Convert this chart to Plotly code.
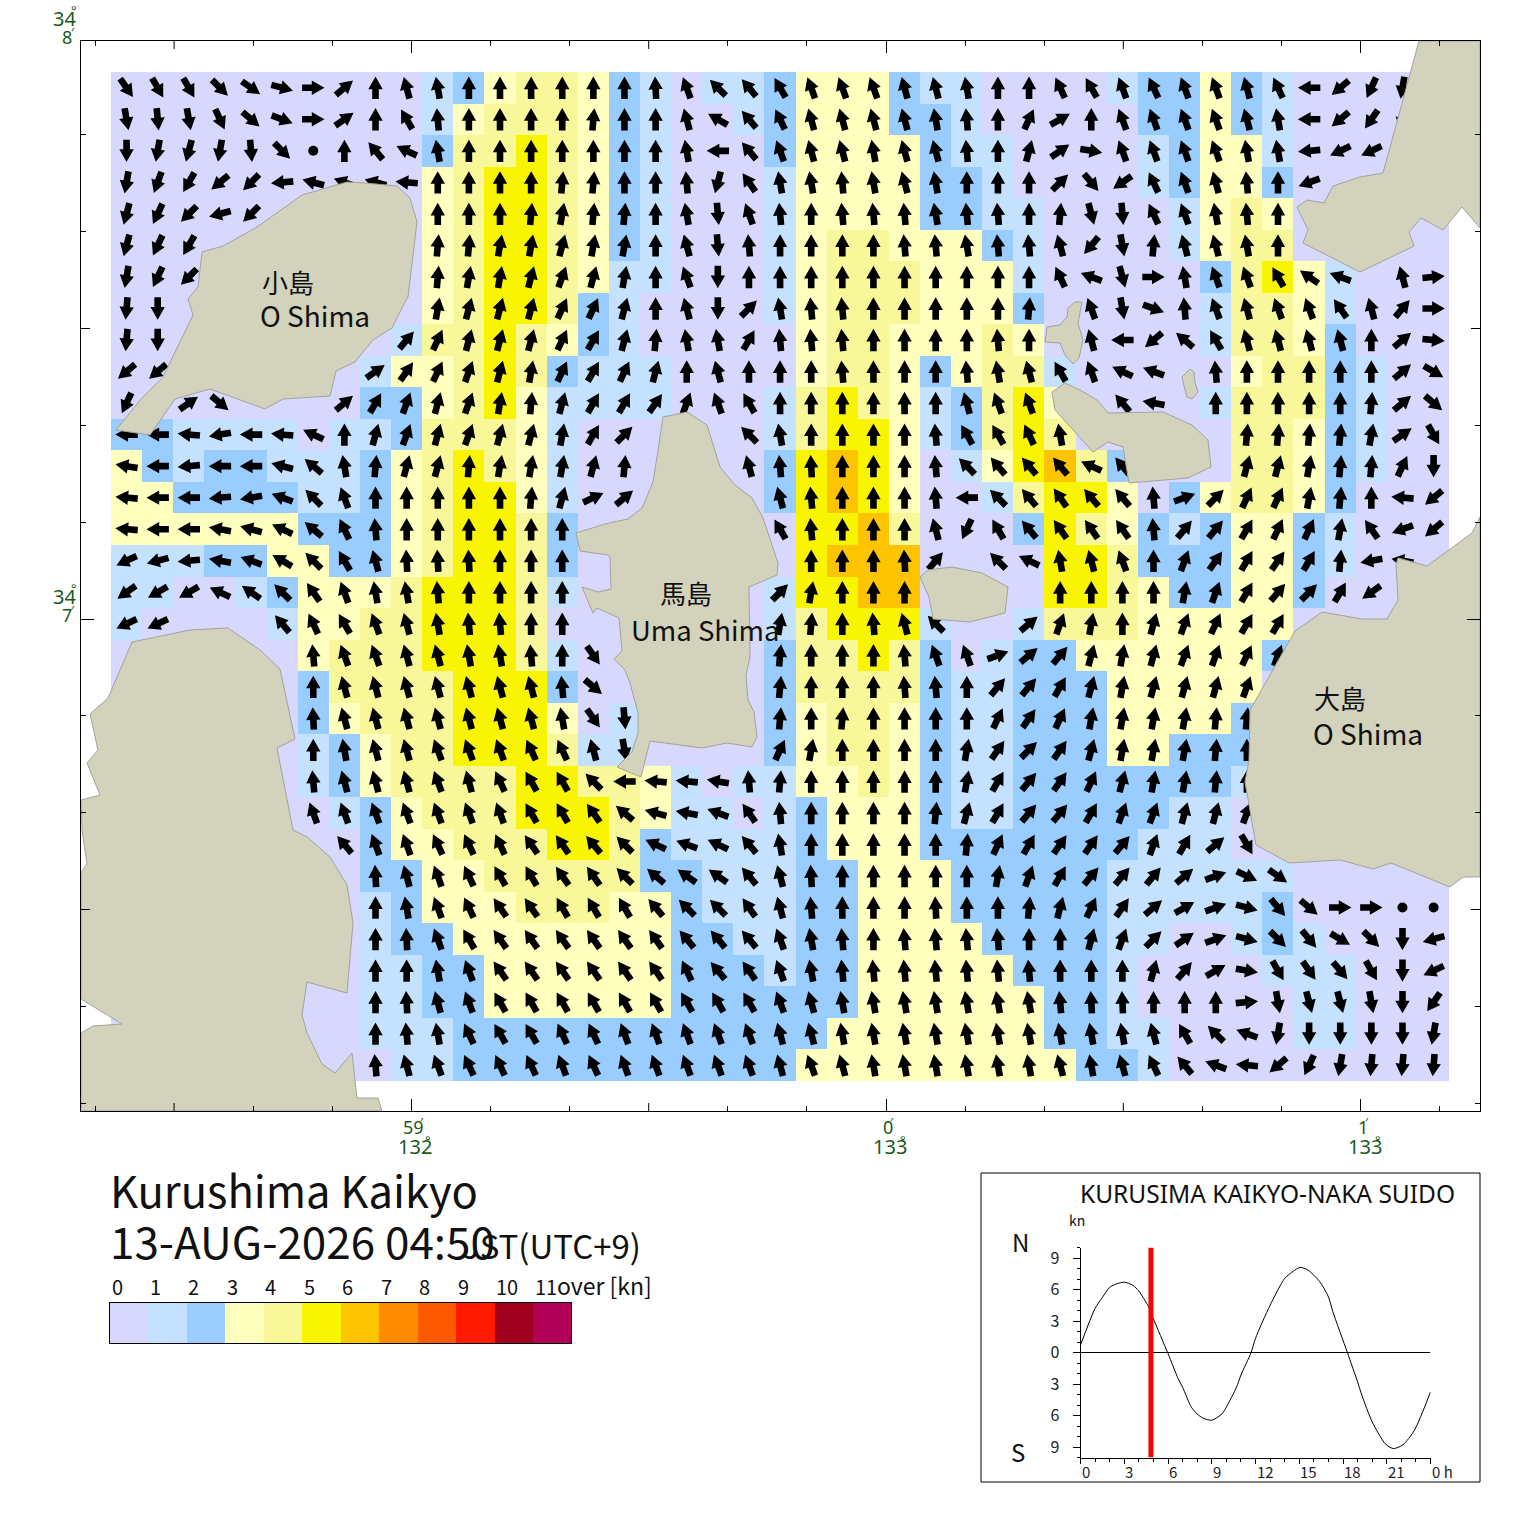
import math
import plotly.graph_objects as go

W, H = 1520, 1533
FONT = "Noto Sans CJK JP"
LATIN = "Noto Sans"
_ = None

# speed class of each grid cell (0 = 0-1 kn, 1 = 1-2 kn ...), north row first
speed_rows = [
    "0000000000 12344 32101 12333 21100 00122 32100 000",
    "0000000000 13444 32100 12333 22100 00022 32100 000",
    "0000000000 24454 32100 02333 32110 00012 33100 000",
    "0000000000 34554 32100 01333 32210 00012 33200 000",
    "0000000000 34554 32100 01333 32211 00001 34300 000",
    "0000000000 34554 32100 01344 33321 00001 34400 000",
    "0000000000 34554 31100 01344 43331 00000 24531 000",
    "0000000000 34554 21000 01344 43332 00000 14431 000",
    "0000000001 44543 21000 00344 33343 00000 14432 000",
    "0000000013 34542 11100 00344 32344 10000 03442 100",
    "0000000022 34531 11100 01454 31245 30000 14442 100",
    "2211110112 44431 00000 01455 31245 40000 04432 100",
    "3212211123 45431 00000 02565 30135 64200 04432 100",
    "3322221123 45531 00000 02565 30014 55302 34432 000",
    "3333332223 45542 00000 00556 40002 54321 23321 000",
    "1112233223 45542 00000 00566 60000 55422 23321 000",
    "1100123334 55541 00000 01556 60000 55432 23320 000",
    "1000013344 55540 00000 01455 51001 44433 33300 000",
    "0000003444 55541 00000 02445 42012 23333 33200 000",
    "0000002444 45552 00000 02444 42112 22333 33000 000",
    "0000002344 45553 01000 02344 32112 22333 32000 000",
    "0000001234 45554 11000 02344 32112 22332 22000 000",
    "0000001234 44455 44310 11334 32112 22222 21000 000",
    "0000000123 44455 54311 01233 32112 22221 10000 000",
    "0000000023 34445 54211 11233 32222 22211 10000 000",
    "0000000022 33444 44221 11223 33222 22111 11100 000",
    "0000000012 33344 43321 11223 33222 22111 11200 000",
    "0000000012 23333 33322 11223 33322 22110 01210 000",
    "0000000011 22333 33322 21223 33332 22100 00111 000",
    "0000000011 22333 33322 22223 33333 22100 00011 000",
    "0000000011 12222 22222 22233 33333 22110 00011 000",
    "0000000001 12222 22222 22333 33333 32210 00000 000",
]

# flow direction of each cell, degrees clockwise from north
direction_rows = [
    [145,150,150,135,125,105,90,50,0,-15, -10,0,0,0,0,0,0,-3,-20,-45, -40,-30,-20,-20,-20,-15,-15,-10,0,0, -25,-30,-20,-25,-20,-20,-15,-25,-90,-130, -155,-170,_],
    [170,175,170,155,130,110,90,55,0,-30, -5,0,0,0,0,5,0,0,-15,-60, -40,-25,-15,-15,-15,-15,-10,-5,0,25, 60,0,-20,-20,-20,-20,-15,-10,-90,-130, -145,190,_],
    [180,190,195,190,175,135,_,0,-40,-65, -10,0,0,0,0,0,0,0,-10,-90, -40,-20,-15,-15,-10,-15,-15,-5,0,15, 55,100,-20,-20,-20,-20,-10,-10,-95,-115, -115,_,_],
    [190,200,210,230,225,-95,-75,-70,-75,-85, 0,0,0,0,5,5,0,0,-5,195, -35,-10,-10,-5,-10,-15,-10,0,0,0, 45,140,-125,-25,-20,-15,-5,0,-110,_, _,_,_],
    [195,205,225,255,225,_,_,_,_,_, 0,0,0,5,10,5,5,0,-10,175, -20,-5,0,-5,-5,-5,-10,-5,-5,0, 5,165,175,-25,-20,-10,-5,0,_,_, _,_,_],
    [195,205,210,_,_,_,_,_,_,_, 5,5,10,10,15,10,10,0,-15,175, -5,0,0,0,0,-5,-5,-10,-5,-5, -15,220,170,5,-15,-15,-10,0,_,_, _,_,_],
    [190,205,225,_,_,_,_,_,_,_, 5,10,10,15,20,15,10,0,-20,180, 0,0,0,0,0,0,0,0,0,0, -25,-70,165,90,-10,-20,-20,-30,-55,-70, _,-15,85],
    [185,180,_,_,_,_,_,_,_,_, 10,15,15,15,25,25,15,0,-15,180, 45,-10,-5,-5,0,0,0,0,0,5, _,-20,170,110,-5,-20,-15,-20,-20,-35, -15,40,90],
    [185,180,_,_,_,_,_,_,_,40, 25,15,15,15,25,30,15,5,-10,-10, 30,-5,-5,-5,0,0,0,0,-5,0, _,-15,-90,-130,-50,-30,-15,-15,-15,-15, 0,50,95],
    [230,230,_,_,_,_,_,_,55,35, 25,20,15,10,25,30,25,15,0,-15, 0,0,0,-5,0,0,0,-5,-10,-15, -30,-20,-65,-70,_,-5,0,0,0,0, 0,50,120],
    [205,_,55,130,_,_,_,50,30,20, 15,20,10,5,15,30,30,35,20,-20, -30,0,0,0,0,0,0,-15,-20,-20, -15,_,-40,-80,_,0,0,0,0,0, 5,50,130],
    [-90,-90,-85,-100,-90,-85,-65,0,15,20, 15,20,15,15,10,30,45,_,_,_, -45,-10,0,0,0,0,-5,-30,-30,-25, -10,_,_,_,_,_,5,5,5,5, 10,55,150],
    [-80,-90,-95,-90,-90,-75,-50,-10,5,15, 15,5,10,10,10,15,5,_,_,_, -15,-5,-3,0,0,0,-5,-45,-40,-40, -40,-65,-40,_,_,_,15,15,10,5, 5,25,180],
    [-85,-90,-90,-95,-100,-70,-45,-20,0,0, 0,0,0,5,15,65,50,_,_,_, _,-15,-5,0,0,0,-5,-90,-45,-40, -35,-40,-40,-5,70,45,25,25,10,5, 0,-85,-130],
    [-85,-90,-90,-80,-75,-65,-50,-25,-5,0, 0,0,0,0,0,_,_,_,_,_, _,-30,-5,0,0,0,-15,205,-30,-40, -35,-35,-35,-5,40,40,30,25,25,10, -35,-110,-130],
    [-115,-105,-95,-80,-70,-60,-45,-30,-15,-3, -3,-3,0,0,0,_,_,_,_,_, _,_,0,0,0,-3,40,_,-45,-65, -10,-15,-20,0,20,35,30,35,30,5, -100,-80,_],
    [-125,-120,-120,-65,-55,-45,-35,-20,-10,-10, -5,0,0,0,0,_,_,_,_,_, _,45,10,0,0,0,_,_,_,_, 0,0,0,0,10,20,30,40,45,30, -125,_,_],
    [-115,-115,_,_,_,-40,-25,-30,-20,-15, -10,-5,-5,0,0,_,_,_,_,_, _,10,5,0,-5,-15,-45,_,_,50, 20,10,0,15,20,25,30,30,_,_, _,_,_],
    [_,_,_,_,_,_,-5,-20,-20,-15, -15,-10,-10,-5,0,145,_,_,_,_, _,5,0,0,0,-5,-20,-20,70,50, 40,15,10,15,20,20,25,20,_,_, _,_,_],
    [_,_,_,_,_,_,0,-15,-15,-15, -15,-15,-15,-15,-5,130,_,_,_,_, _,5,0,0,0,-5,-5,0,40,40, 30,15,10,15,15,15,20,_,_,_, _,_,_],
    [_,_,_,_,_,_,-3,-15,-15,-15, -15,-15,-15,-15,-10,145,175,_,_,_, _,5,0,5,0,0,0,0,25,35, 25,10,10,10,10,5,5,_,_,_, _,_,_],
    [_,_,_,_,_,_,0,-10,-15,-15, -20,-20,-20,-25,-25,-15,170,_,_,_, _,25,10,0,0,0,0,10,35,45, 35,15,10,10,10,5,0,_,_,_, _,_,_],
    [_,_,_,_,_,_,-5,-15,-15,-15, -20,-15,-25,-30,-30,-45,-90,-85,-85,-80, -5,5,0,0,0,0,0,10,30,40, 35,25,15,10,10,5,0,_,_,_, _,_,_],
    [_,_,_,_,_,_,-20,-20,-20,-20, -20,-20,-20,-30,-30,-35,-50,-75,-80,-70, -35,-5,0,0,0,0,5,15,30,40, 40,30,20,20,15,15,20,_,_,_, _,_,_],
    [_,_,_,_,_,_,_,-40,-20,-20, -25,-25,-25,-35,-35,-40,-45,-65,-70,-65, -40,-10,0,0,0,0,0,5,25,30, 35,35,40,20,30,50,150,_,_,_, _,_,_],
    [_,_,_,_,_,_,_,_,-3,-15, -20,-25,-30,-30,-35,-35,-45,-50,-55,-55, -40,-15,-3,0,0,0,0,0,10,20, 30,40,40,40,50,70,115,125,_,_, _,_,_],
    [_,_,_,_,_,_,_,_,0,-10, -20,-25,-35,-35,-30,-30,-30,-40,-45,-45, -35,-15,-5,0,0,0,-3,0,0,5, 15,25,35,50,60,70,105,140,130,90, 90,_,_],
    [_,_,_,_,_,_,_,_,0,-3, -20,-30,-35,-35,-35,-35,-35,-35,-40,-40, -40,-20,-10,-5,0,-5,-5,-5,-5,0, 0,15,20,45,55,70,105,135,140,120, 135,180,-105],
    [_,_,_,_,_,_,_,_,0,0, -10,-20,-35,-35,-35,-35,-35,-35,-25,-40, -35,-20,-10,-5,-5,-5,-5,-5,-5,-5, 0,0,0,15,40,60,100,150,145,140, 150,180,-115],
    [_,_,_,_,_,_,_,_,0,-3, -15,-20,-30,-30,-30,-30,-30,-30,-30,-30, -30,-20,-15,-10,-10,-10,-10,-10,-10,-10, -5,-3,-3,0,0,0,85,170,165,165, 170,180,-145],
    [_,_,_,_,_,_,_,_,0,-5, -10,-25,-30,-30,-25,-25,-20,-20,-20,-20, -20,-15,-15,-10,-10,-10,-10,-10,-10,-10, -10,-10,-10,-15,-30,-45,-70,-170,180,180, 180,180,-170],
    [_,_,_,_,_,_,_,_,-5,-15, -20,-25,-25,-25,-20,-25,-20,-20,-20,-20, -20,-15,-20,-15,-10,-10,-10,-10,-10,-10, -15,-10,-15,-25,-40,-70,-85,-130,-155,-170, -175,-175,-175],
]
# cells where the current is too weak to have a direction (row, column)
calm_cells = [(2, 6), (26, 41), (26, 42)]

# coastlines
ko_shima = [(347,182),(365,183),(397,186),(410,198),(417,222),(408,297),(405,302),(392,328),(373,340),(355,362),(336,371),(330,396),(283,399),(265,409),(210,389),(175,399),(150,435),(116,430),(142,398),(163,377),(193,315),(188,299),(198,287),(202,252),(223,246),(257,227),(302,195)]
west_shore = [(132,642),(190,630),(228,628),(260,650),(280,669),(295,739),(277,748),(293,830),(307,837),(330,857),(347,885),(353,923),(347,993),(307,982),(302,1015),(307,1033),(322,1064),(335,1073),(352,1053),(357,1098),(378,1098),(382,1111),(81,1111),(81,1033),(93,1026),(122,1024),(81,999),(81,872),(87,864),(82,830),(81,800),(100,795),(87,763),(98,750),(90,714),(108,698)]
uma_shima = [(663,417),(687,412),(707,425),(720,467),(735,485),(752,498),(763,518),(778,563),(777,575),(749,587),(750,657),(746,675),(748,700),(754,712),(757,737),(752,747),(727,743),(702,748),(650,741),(641,777),(617,767),(632,752),(638,733),(638,713),(630,683),(625,670),(614,659),(622,651),(619,618),(597,608),(593,613),(582,587),(598,592),(611,589),(610,557),(608,555),(580,551),(576,533),(605,524),(628,519),(642,508),(653,482),(657,457)]
islet_a = [(920,577),(928,570),(952,567),(982,573),(1008,587),(1005,613),(970,622),(933,619),(929,597)]
islet_b = [(1075,302),(1082,302),(1078,323),(1083,340),(1079,358),(1073,364),(1065,355),(1060,343),(1045,342),(1047,327),(1060,325),(1067,317),(1068,308)]
islet_c = [(1190,369),(1194,372),(1195,383),(1198,392),(1192,399),(1187,397),(1185,390),(1182,377),(1188,371)]
islet_d = [(1065,383),(1080,390),(1097,400),(1108,413),(1163,412),(1192,425),(1208,440),(1211,467),(1188,478),(1129,483),(1123,447),(1108,442),(1093,452),(1055,410),(1052,392)]
ne_shore = [(1419,41),(1403,100),(1383,173),(1360,177),(1333,186),(1324,203),(1307,200),(1297,207),(1308,230),(1303,243),(1360,272),(1414,246),(1409,232),(1421,218),(1443,230),(1462,207),(1480,228),(1480,41)]
o_shima = [(1480,517),(1472,533),(1427,566),(1398,558),(1396,565),(1398,600),(1387,619),(1362,619),(1322,612),(1295,631),(1250,710),(1249,760),(1245,782),(1256,845),(1289,863),(1340,860),(1373,869),(1391,863),(1450,887),(1463,877),(1480,877)]

# speed scale
class_colors = ["#d8d8ff", "#c4e2ff", "#99ccff", "#ffffbe", "#f8f89a", "#f9f400",
                "#ffc400", "#ff8c00", "#fd5a00", "#ff1a00", "#a00020", "#b20058"]
class_labels = ["0", "1", "2", "3", "4", "5", "6", "7", "8", "9", "10", "11"]

# tidal current curve at the station
curve_hour = [0, 1, 1.5, 2, 2.5, 3, 3.6, 4, 4.65, 5, 6, 6.7, 7, 7.6, 8, 8.4, 9, 9.7, 10, 10.7, 11, 11.7, 12, 13, 14, 14.6, 15.05, 15.6, 16.4, 17, 17.3, 18.3, 19, 19.3, 20, 20.9, 21.45, 22.1, 22.9, 24]
curve_knots = [0.7, 4.2, 5.25, 6.2, 6.55, 6.7, 6.4, 5.85, 4.4, 3.2, -0.1, -2.5, -3.3, -5.2, -5.85, -6.25, -6.45, -5.85, -5.2, -3.3, -2.15, 0, 1.35, 4.5, 7.05, 7.75, 8.1, 7.85, 6.75, 5.3, 3.9, 0, -2.8, -4.1, -6.6, -8.7, -9.15, -8.8, -7.4, -3.75]
now_hour = 4.83
hour_ticks = [0, 3, 6, 9, 12, 15, 18, 21, 24]
hour_labels = ["0", "3", "6", "9", "12", "15", "18", "21", "0 h"]
knot_ticks = [9, 6, 3, 0, -3, -6, -9]
knot_labels = ["9", "6", "3", "0", "3", "6", "9"]

# minutes of arc from 133E / 34N
XSCALE, YSCALE = 474.6, 581.0
def lon(px):
    return (px - 886) / XSCALE
def lat(py):
    return 7 + (619 - py) / YSCALE
def xp(px):
    return px / W
def yp(py):
    return 1 - py / H

CELL_W, CELL_H = 31.12, 31.53
cell_lon = [lon(111 + CELL_W * (i + 0.5)) for i in range(43)]
cell_lat = [lat(72 + CELL_H * (j + 0.5)) for j in range(32)]

speed = [[int(c) for c in row.replace(" ", "")] for row in speed_rows]

# arrow outline in screen pixels, pointing north, around the cell centre
ARROW = [(0, 11.2), (7.2, -1.5), (3.3, -1.5), (3.3, -11.2), (-3.3, -11.2), (-3.3, -1.5), (-7.2, -1.5), (0, 11.2)]

arrow_x, arrow_y = [], []
for j, row in enumerate(direction_rows):
    for i, deg in enumerate(row):
        if deg is None:
            continue
        r = math.radians(deg)
        for dx, dy in ARROW:
            arrow_x.append(cell_lon[i] + (dx * math.cos(r) + dy * math.sin(r)) / XSCALE)
            arrow_y.append(cell_lat[j] + (-dx * math.sin(r) + dy * math.cos(r)) / YSCALE)
        arrow_x.append(None)
        arrow_y.append(None)

steps = []
for k, c in enumerate(class_colors):
    steps += [[k / 12, c], [(k + 1) / 12, c]]

fig = go.Figure()

fig.add_trace(go.Heatmap(x=cell_lon, y=cell_lat, z=speed, zmin=-0.5, zmax=11.5, colorscale=steps,
                         showscale=False, hoverinfo="skip"))
fig.add_trace(go.Scatter(x=arrow_x, y=arrow_y, mode="lines", fill="toself", fillcolor="black",
                         line=dict(color="black", width=0), hoverinfo="skip", showlegend=False))
fig.add_trace(go.Scatter(x=[cell_lon[c[1]] for c in calm_cells], y=[cell_lat[c[0]] for c in calm_cells],
                         mode="markers", marker=dict(symbol="circle", size=10, color="black"),
                         hoverinfo="skip", showlegend=False))

for land in [ko_shima, west_shore, uma_shima, islet_a, islet_b, islet_c, islet_d, ne_shore, o_shima]:
    pts = land + [land[0]]
    fig.add_trace(go.Scatter(x=[lon(p[0]) for p in pts], y=[lat(p[1]) for p in pts], mode="lines",
                             fill="toself", fillcolor="#d3d2bc", line=dict(color="#a3a39c", width=1),
                             hoverinfo="skip", showlegend=False))

# speed scale bar
fig.add_trace(go.Heatmap(z=[list(range(12))], x=list(range(12)), y=[0], zmin=-0.5, zmax=11.5, colorscale=steps,
                         showscale=False, hoverinfo="skip", xaxis="x2", yaxis="y2"))

# inset curve
fig.add_trace(go.Scatter(x=[0, 24], y=[0, 0], mode="lines", line=dict(color="black", width=1),
                         xaxis="x3", yaxis="y3", hoverinfo="skip", showlegend=False))
fig.add_trace(go.Scatter(x=curve_hour, y=curve_knots, mode="lines", line=dict(color="black", width=1, shape="spline", smoothing=0.7),
                         xaxis="x3", yaxis="y3", hoverinfo="skip", showlegend=False))
fig.add_trace(go.Scatter(x=[now_hour, now_hour], y=[-10, 10], mode="lines", line=dict(color="#ff0000", width=5),
                         xaxis="x3", yaxis="y3", hoverinfo="skip", showlegend=False))

notes = []
def text(s, x, y, size, anchor="left", color="#111111", family=FONT):
    notes.append(dict(text=s, x=xp(x), y=yp(y), xref="paper", yref="paper", xanchor=anchor, yanchor="middle",
                      showarrow=False, font=dict(family=family, size=size, color=color)))

# island names
text("小島", 260, 281, 26)
text("O Shima", 258, 315, 28)
text("馬島", 658, 592, 26)
text("Uma Shima", 629, 629, 27.5)
text("大島", 1312, 697, 26)
text("O Shima", 1311, 733, 28)

# title block
text("Kurushima Kaikyo", 108, 1189, 43.5)
text("13-AUG-2026 04:50", 108, 1240, 44)
text("JST(UTC+9)", 460, 1245, 33)

# inset text
text("KURUSIMA KAIKYO-NAKA SUIDO", 1078, 1193, 24.5, family=LATIN)
text("kn", 1067, 1220, 14)
text("N", 1010, 1241, 24)
text("S", 1009, 1451, 24)

GREEN = "#1a5a1a"
for val, minute, deg in [(-1, "59", "132"), (0, "0", "133"), (1, "1", "133")]:
    for s, y, size, shift in [(minute, 1127, 18, 2), (deg, 1146, 20, 4), ("′", 1122, 13, 11 if val == -1 else 6), ("°", 1140, 13, 17)]:
        notes.append(dict(text=s, x=val, y=yp(y), xref="x", yref="paper", xanchor="center", yanchor="middle", xshift=shift,
                          showarrow=False, font=dict(family=LATIN, size=size, color=GREEN)))
# latitude labels stand around the tick pixel, the 8 minute one sits just above the frame
for tick_y, minute in [(41, "8"), (619, "7")]:
    for s, x, y, size in [("34", 64, tick_y - 23, 20), (minute, 67, tick_y - 4, 18), ("°", 74, tick_y - 31, 13), ("′", 73, tick_y - 9, 13)]:
        text(s, x, y, size, anchor="center", color=GREEN, family=LATIN)

# scale labels sit above the left edge of each class
for k, s in enumerate(class_labels):
    notes.append(dict(text=s, x=k - 0.5, y=yp(1286), xref="x2", yref="paper", xanchor="left", yanchor="middle",
                      showarrow=False, font=dict(family=FONT, size=20, color="#111111")))
text("over [kn]", 555, 1285, 23)

for h, s in zip(hour_ticks, hour_labels):
    notes.append(dict(text=s, x=h, y=yp(1471), xref="x3", yref="paper", xanchor="left", yanchor="middle", xshift=-1,
                      showarrow=False, font=dict(family=FONT, size=15, color="#222222")))

shapes = [dict(type="rect", xref="paper", yref="paper", x0=xp(981), x1=xp(1480), y0=yp(1173), y1=yp(1482),
               line=dict(color="black", width=1), layer="below")]
# half minute ticks are a bit longer than the ten second ones
for v in [-1.5, -0.5, 0.5]:
    shapes.append(dict(type="line", xref="x", yref="paper", x0=v, x1=v, y0=yp(1111), y1=yp(1103), line=dict(color="black", width=1)))
    shapes.append(dict(type="line", xref="x", yref="paper", x0=v, x1=v, y0=yp(41), y1=yp(49), line=dict(color="black", width=1)))
for v in [7.5, 6.5]:
    shapes.append(dict(type="line", xref="paper", yref="y", x0=xp(81), x1=xp(90), y0=v, y1=v, line=dict(color="black", width=1)))
    shapes.append(dict(type="line", xref="paper", yref="y", x0=xp(1480), x1=xp(1471), y0=v, y1=v, line=dict(color="black", width=1)))

lon_minor = [k / 6 for k in range(-10, 8) if k % 3 != 0]
lat_minor = [6 + k / 6 for k in range(1, 12) if k % 3 != 0]

fig.update_layout(
    width=W, height=H,
    margin=dict(l=0, r=0, t=0, b=0, autoexpand=False),
    paper_bgcolor="white", plot_bgcolor="white",
    showlegend=False,
    annotations=notes, shapes=shapes,
    xaxis=dict(domain=[xp(81), xp(1480)], range=[lon(81), lon(1480)], showgrid=False, zeroline=False,
               showline=True, linecolor="black", linewidth=1, mirror="ticks", ticks="inside", ticklen=12,
               tickcolor="black", tickvals=[-1, 0, 1], showticklabels=False,
               minor=dict(tickmode="array", tickvals=lon_minor, ticks="inside", ticklen=5, tickcolor="black", tickwidth=1)),
    yaxis=dict(domain=[yp(1111), yp(41)], range=[lat(1111), lat(41)], showgrid=False, zeroline=False,
               showline=True, linecolor="black", linewidth=1, mirror="ticks", ticks="inside", ticklen=13,
               tickcolor="black", tickvals=[7], showticklabels=False,
               minor=dict(tickmode="array", tickvals=lat_minor, ticks="inside", ticklen=5, tickcolor="black", tickwidth=1)),
    xaxis2=dict(domain=[xp(109.5), xp(571)], range=[-0.5, 11.5], anchor="y2", showgrid=False, zeroline=False,
                showline=True, linecolor="black", linewidth=1, mirror=True, ticks="", showticklabels=False),
    yaxis2=dict(domain=[yp(1343), yp(1303)], range=[-0.5, 0.5], anchor="x2", showgrid=False, zeroline=False,
                showline=True, linecolor="black", linewidth=1, mirror=True, ticks="", showticklabels=False),
    xaxis3=dict(domain=[xp(1080.5), xp(1430.5)], range=[0, 24], anchor="y3", showgrid=False, zeroline=False,
                showline=True, linecolor="black", linewidth=1, ticks="outside", ticklen=5, tickcolor="black",
                tickvals=hour_ticks, showticklabels=False,
                minor=dict(tickmode="array", tickvals=[h for h in range(25) if h % 3], ticks="outside", ticklen=3, tickcolor="black")),
    yaxis3=dict(domain=[yp(1457.5), yp(1247.5)], range=[-10, 10], anchor="x3", showgrid=False, zeroline=False,
                showline=True, linecolor="black", linewidth=1, ticks="outside", ticklen=7, tickcolor="black",
                tickvals=knot_ticks, ticktext=knot_labels, ticklabelstandoff=10,
                tickfont=dict(family=FONT, size=16, color="#222222"),
                minor=dict(tickmode="array", tickvals=[k for k in range(-10, 11) if k % 3], ticks="outside", ticklen=3, tickcolor="black")),
)

fig.write_html("out.html", config={"displayModeBar": False},
               post_script="document.body.style.margin='0';document.body.style.overflow='hidden';")
